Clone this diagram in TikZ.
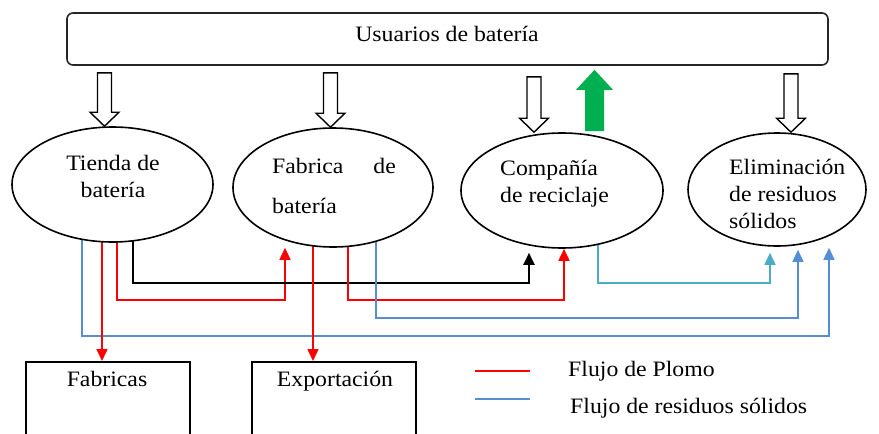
\documentclass[tikz,border=0pt]{standalone}
\usepackage{fontspec}
\setmainfont{Liberation Serif}[FakeStretch=1.08]
\usetikzlibrary{arrows.meta,calc,shapes.geometric}
\pgfdeclarelayer{background}
\pgfsetlayers{background,main}
\definecolor{plomo}{RGB}{255,0,0}
\definecolor{resid}{RGB}{85,142,213}
\definecolor{cyanflow}{RGB}{75,172,198}
\definecolor{greenup}{RGB}{0,176,80}
\newcommand\hollowto[3]{%
  \draw[hollow] let \p1=(users.south), \p2=(#1.north) in
    ({#2pt-7pt},{\y1-#3pt}) -- ({#2pt+7pt},{\y1-#3pt}) -- ({#2pt+7pt},{\y2+14pt})
    -- ({#2pt+14.5pt},{\y2+14pt}) -- ({#2pt},{\y2}) -- ({#2pt-14.5pt},{\y2+14pt})
    -- ({#2pt-7pt},{\y2+14pt}) -- cycle;}
\begin{document}
\begin{tikzpicture}[x=1pt,y=-1pt,
  txt/.style={font=\fontsize{22}{27}\selectfont, inner sep=0pt},
  ell/.style={ellipse, draw=black, line width=1.6pt, fill=white, inner sep=0pt},
  boxw/.style={rectangle, draw=black, line width=1.6pt, fill=white, inner sep=0pt, anchor=north},
  hollow/.style={draw=black, line width=1.4pt, fill=white},
  flow/.style={line width=1.6pt},
  tip/.style={-{Triangle[width=11pt,length=12pt]}},
]
\useasboundingbox (0,0) rectangle (879,434);
\clip (0,0) rectangle (879,434);

% top box
\node[draw=black!85, rounded corners=6pt, line width=1.6pt, minimum width=761pt,
      minimum height=52pt, inner sep=0pt] (users) at (447.5,39) {};
\node[txt, anchor=base] (userstxt) at (447,41) {Usuarios de batería};

% ellipses
\node[ell, minimum width=201pt, minimum height=115pt] (tienda) at (112.5,184.5) {};
\node[ell, minimum width=200pt, minimum height=119pt] (fabrica) at (333,187.5) {};
\node[ell, minimum width=202pt, minimum height=115pt] (compania) at (562,190.5) {};
\node[ell, minimum width=178pt, minimum height=113pt] (elim) at (777,189.5) {};

% multi-line nodes: base anchor = baseline of the last line
\node[txt, align=center, anchor=base] (tiendatxt) at (113,197) {Tienda de\\batería};
\node[txt, align=left, anchor=base west] (fabricatxt) at (272,213) {Fabrica\hspace{30pt}de\\[13pt]batería};
\node[txt, align=left, anchor=base west] (compatxt) at (500,202) {Compañía\\de reciclaje};
\node[txt, align=left, anchor=base west] (elimtxt) at (729,228) {Eliminación\\de residuos\\sólidos};

% bottom boxes
\node[boxw, minimum width=164pt, minimum height=100pt] (fabricas) at (108,361) {};
\node[boxw, minimum width=164pt, minimum height=100pt] (export) at (334,361) {};
\node[txt, anchor=base] (fabricastxt) at (107,386) {Fabricas};
\node[txt, anchor=base] (exporttxt) at (335,386) {Exportación};

% hollow arrows
\hollowto{tienda}{104.5}{7}
\hollowto{fabrica}{330.5}{7}
\hollowto{compania}{534}{11}
\hollowto{elim}{791}{8}

% green arrow
\fill[greenup] let \p1=(compania.north), \p2=(users.south) in
  ({594.5pt-9.5pt},{\y1+1pt}) -- ({594.5pt+9.5pt},{\y1+1pt}) -- ({594.5pt+9.5pt},{\y2-24pt})
  -- ({594.5pt+18.5pt},{\y2-24pt}) -- ({594.5pt},{\y2-4pt}) -- ({594.5pt-18.5pt},{\y2-24pt})
  -- ({594.5pt-9.5pt},{\y2-24pt}) -- cycle;

% flows
\begin{pgfonlayer}{background}
\coordinate (t1) at ([xshift=-30.5pt]tienda.center);
\coordinate (t2) at ([xshift=-10.5pt]tienda.center);
\coordinate (t3) at ([xshift=4.5pt]tienda.center);
\coordinate (t4) at ([xshift=20.5pt]tienda.center);
\coordinate (f1) at ([xshift=-20pt]fabrica.center);
\coordinate (f2) at ([xshift=15pt]fabrica.center);
\coordinate (f3) at ([xshift=43pt]fabrica.center);
\coordinate (c1) at ([xshift=36pt]compania.center);
\coordinate (eA) at ([xshift=52pt,yshift=-1pt]elim.south);
\coordinate (eB) at ([xshift=21pt,yshift=-3pt]elim.south);
\coordinate (eC) at ([xshift=-7pt,yshift=-6pt]elim.south);
\coordinate (cA) at ([xshift=-33pt,yshift=-4pt]compania.south);
\coordinate (cB) at ([xshift=2pt]compania.south);
\coordinate (fA) at ([xshift=-48pt]fabrica.south);

\draw[flow, resid, tip] (t1) -- (t1 |- 0,336) -| (eA);
\draw[flow, plomo, tip] (t2) -- (t2 |- fabricas.north);
\draw[flow, plomo, tip] (t3) -- (t3 |- 0,300) -| (fA);
\draw[flow, black, line width=2pt, tip] (t4) -- (t4 |- 0,283) -| (cA);
\draw[flow, plomo, tip] (f1) -- (f1 |- export.north);
\draw[flow, plomo, tip] (f2) -- (f2 |- 0,300) -| (cB);
\draw[flow, resid, tip] (f3) -- (f3 |- 0,318) -| (eB);
\draw[flow, cyanflow, tip] (c1) -- (c1 |- 0,283) -| (eC);
\end{pgfonlayer}

% legend
\draw[flow, plomo] (475,371) coordinate (l1a) -- (530,371) coordinate (l1b);
\draw[flow, resid] (475,399) coordinate (l2a) -- (530,399) coordinate (l2b);
\node[txt, anchor=base west] (leg1) at (568,376) {Flujo de Plomo};
\node[txt, anchor=base west] (leg2) at (570,413) {Flujo de residuos sólidos};
\end{tikzpicture}
\end{document}
